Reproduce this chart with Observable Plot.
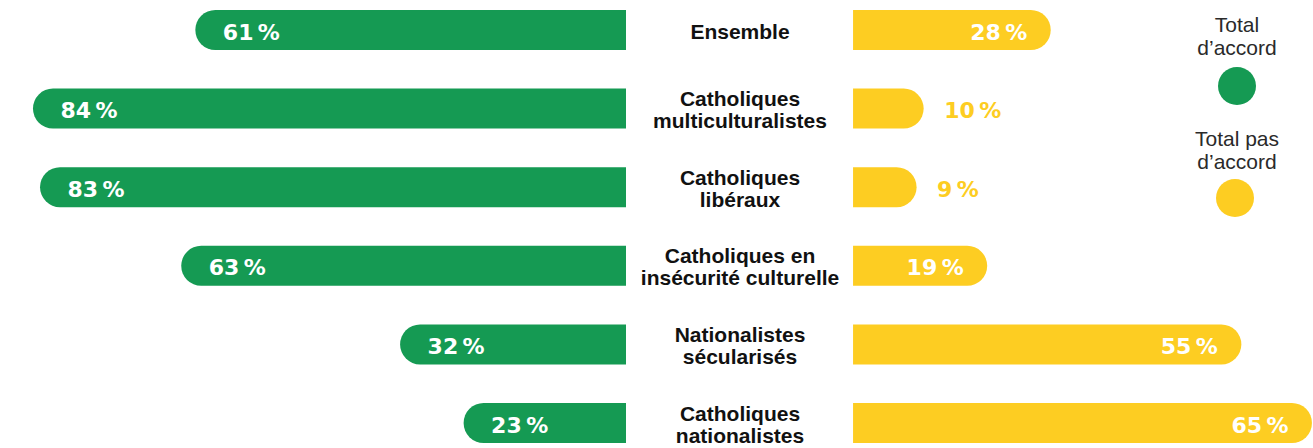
<!DOCTYPE html>
<html>
<head>
<meta charset="utf-8">
<script src="https://cdn.jsdelivr.net/npm/d3@7"></script>
<script src="https://cdn.jsdelivr.net/npm/@observablehq/plot@0.6"></script>
<style>
  html, body { margin: 0; padding: 0; background: #fff; }
  #wrap { position: relative; width: 1313px; height: 448px; overflow: hidden; }
  .lg { position: absolute; width: 140px; text-align: center; font-family: "Liberation Sans", Arial, sans-serif; font-size: 21px; line-height: 23px; color: #2a2a2a; }
  .dot { position: absolute; width: 38px; height: 38px; border-radius: 50%; }
</style>
</head>
<body>
<div id="wrap"></div>
<script>
// ---- data ----
const categories = [
  "Ensemble",
  "Catholiques\nmulticulturalistes",
  "Catholiques\nlibéraux",
  "Catholiques en\ninsécurité culturelle",
  "Nationalistes\nsécularisés",
  "Catholiques\nnationalistes"
];
const totalAccord = [61, 84, 83, 63, 32, 23];
const totalPasAccord = [28, 10, 9, 19, 55, 65];
const seriesNames = ["Total\nd’accord", "Total pas\nd’accord"];

// ---- styles ----
const GREEN = "#159a53";
const YELLOW = "#fdcd22";
const HALF_GAP = 16.08; // half of the label gap, in % units

const rows = categories.map((c, i) => ({cat: c, accord: totalAccord[i], pas: totalPasAccord[i]}));
const fmt = v => `${v}\u202F%`;
const pctFont = {fontFamily: "DejaVu Sans", fontWeight: "bold", fontSize: 22, dy: 2};

const chart = Plot.plot({
  width: 1313,
  height: 448,
  margin: 0,
  x: {domain: [-104.75, 81.23], axis: null},
  y: {domain: categories, range: [0, 453], paddingInner: 0.491, paddingOuter: 0.127, round: false, axis: null},
  marks: [
    // rounded bars, inner ends hidden under the central label band
    Plot.barX(rows, {y: "cat", x1: d => -HALF_GAP - d.accord, x2: () => 0, fill: GREEN, rx: 20}),
    Plot.barX(rows, {y: "cat", x1: () => 0, x2: d => HALF_GAP + d.pas, fill: YELLOW, rx: 20}),
    Plot.rect([null], {x1: () => -HALF_GAP, x2: () => HALF_GAP, fill: "white"}),
    // green labels
    Plot.text(rows, {y: "cat", x: d => -HALF_GAP - d.accord, text: d => fmt(d.accord), textAnchor: "start", dx: 27, fill: "white", ...pctFont}),
    // yellow labels inside
    Plot.text(rows.filter(d => d.pas >= 15), {y: "cat", x: d => HALF_GAP + d.pas, text: d => fmt(d.pas), textAnchor: "end", dx: -24, fill: "white", ...pctFont}),
    // yellow labels outside
    Plot.text(rows.filter(d => d.pas < 15), {y: "cat", x: d => HALF_GAP + d.pas, text: d => fmt(d.pas), textAnchor: "start", dx: 20, fill: YELLOW, ...pctFont}),
    // category labels
    Plot.text(rows, {y: "cat", x: () => 0, text: "cat", fontFamily: "Liberation Sans", fontWeight: "bold", fontSize: 21, lineHeight: 1.05, fill: "#111", dy: 1})
  ]
});

const wrap = document.getElementById("wrap");
wrap.appendChild(chart);

// legend
function addText(txt, top) {
  const d = document.createElement("div");
  d.className = "lg";
  d.style.left = (1237 - 70) + "px";
  d.style.top = top + "px";
  d.innerHTML = txt.split("\n").join("<br>");
  wrap.appendChild(d);
}
function addDot(color, cx, cy) {
  const d = document.createElement("div");
  d.className = "dot";
  d.style.background = color;
  d.style.left = (cx - 19) + "px";
  d.style.top = (cy - 19) + "px";
  wrap.appendChild(d);
}
addText(seriesNames[0], 13);
addDot(GREEN, 1237, 86);
addText(seriesNames[1], 127);
addDot(YELLOW, 1235, 198);
</script>
</body>
</html>
